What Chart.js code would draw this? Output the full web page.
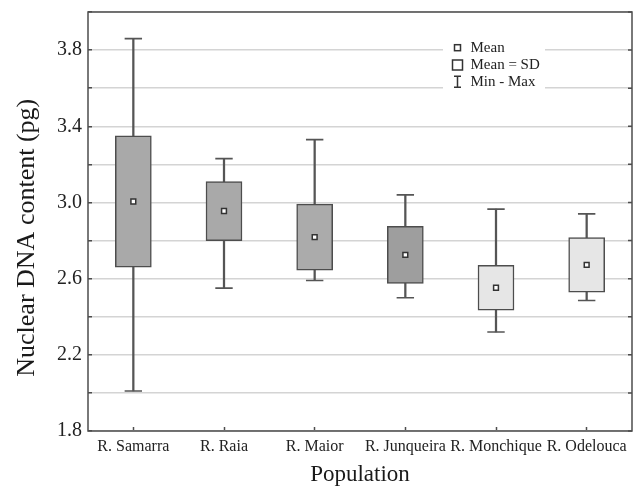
<!DOCTYPE html>
<html>
<head>
<meta charset="utf-8">
<script src="https://cdn.jsdelivr.net/npm/chart.js@4.4.1/dist/chart.umd.min.js"></script>
<style>
html, body { margin: 0; padding: 0; background: #ffffff; }
#wrap { width: 644px; height: 489px; }
</style>
</head>
<body>
<div id="wrap"><canvas id="c" width="644" height="489"></canvas></div>
<script>
// ---- data ----
const categories = ['R. Samarra', 'R. Raia', 'R. Maior', 'R. Junqueira', 'R. Monchique', 'R. Odelouca'];
const meanValues = [3.005, 2.955, 2.818, 2.725, 2.552, 2.672];
const sdValues   = [0.345, 0.155, 0.173, 0.150, 0.118, 0.143];
const minValues  = [2.01, 2.55, 2.59, 2.50, 2.32, 2.485];
const maxValues  = [3.86, 3.23, 3.33, 3.04, 2.965, 2.94];
const boxColors  = ['#a9a9a9', '#a9a9a9', '#ababab', '#9e9e9e', '#e6e6e6', '#e6e6e6'];
const yTickLabels = ['1.8', '2.2', '2.6', '3.0', '3.4', '3.8'];
const legendLabels = ['Mean', 'Mean = SD', 'Min - Max'];
const xTitle = 'Population';
const yTitle = 'Nuclear DNA content (pg)';

const boxData = meanValues.map((m, i) => [m - sdValues[i], m + sdValues[i]]);
const whiskerData = minValues.map((v, i) => [v, maxValues[i]]);

const FONT = 'Liberation Serif';
Chart.defaults.font.family = FONT;
Chart.defaults.color = '#222222';

const INK = '#4d4d4d';

// frame around the plot + inner ticks on the right side
const framePlugin = {
  id: 'frame',
  afterDraw(chart) {
    const a = chart.chartArea;
    const ctx = chart.ctx;
    const ys = chart.scales.y;
    ctx.save();
    ctx.strokeStyle = INK;
    ctx.lineWidth = 1.5;
    ctx.strokeRect(a.left, a.top, a.right - a.left, a.bottom - a.top);
    ctx.beginPath();
    ys.ticks.forEach(t => {
      const py = ys.getPixelForValue(t.value);
      ctx.moveTo(a.right, py);
      ctx.lineTo(a.right - 4, py);
    });
    ctx.stroke();
    ctx.restore();
  }
};

// legend drawn inside the plot area (top right)
const legendPlugin = {
  id: 'insideLegend',
  afterDraw(chart) {
    const a = chart.chartArea;
    const ctx = chart.ctx;
    const x0 = a.left + 355;
    const y0 = a.top + 26;
    ctx.save();
    ctx.fillStyle = '#ffffff';
    ctx.fillRect(x0, y0, 102, 55);
    const iconX = x0 + 14.5;
    const textX = x0 + 27.5;
    const rows = [y0 + 9.7, y0 + 27, y0 + 43.7];
    ctx.strokeStyle = '#333333';
    ctx.lineWidth = 1.5;
    // Mean icon
    ctx.fillStyle = '#ffffff';
    ctx.fillRect(iconX - 3, rows[0] - 3, 6, 6);
    ctx.strokeRect(iconX - 3, rows[0] - 3, 6, 6);
    // Mean = SD icon
    ctx.fillRect(iconX - 5, rows[1] - 5, 10, 10);
    ctx.strokeRect(iconX - 5, rows[1] - 5, 10, 10);
    // Min - Max icon
    ctx.beginPath();
    ctx.moveTo(iconX, rows[2] - 5.5); ctx.lineTo(iconX, rows[2] + 5.5);
    ctx.moveTo(iconX - 3.5, rows[2] - 5.5); ctx.lineTo(iconX + 3.5, rows[2] - 5.5);
    ctx.moveTo(iconX - 3.5, rows[2] + 5.5); ctx.lineTo(iconX + 3.5, rows[2] + 5.5);
    ctx.stroke();
    ctx.fillStyle = '#222222';
    ctx.font = '15px "' + FONT + '"';
    ctx.textBaseline = 'middle';
    ctx.textAlign = 'left';
    legendLabels.forEach((t, i) => ctx.fillText(t, textX, rows[i]));
    ctx.restore();
  }
};

new Chart(document.getElementById('c'), {
  type: 'bar',
  data: {
    labels: categories,
    datasets: [
      {
        type: 'bar', label: 'Min - Max', data: whiskerData,
        backgroundColor: '#555555', borderWidth: 0,
        barThickness: 1.6, grouped: false, order: 4
      },
      {
        type: 'line', label: 'Max', data: maxValues, showLine: false,
        pointStyle: 'line', pointRadius: 8.7, pointHoverRadius: 8.7,
        pointBorderColor: '#555555', pointBackgroundColor: '#555555',
        pointBorderWidth: 1.6, borderColor: '#555555', order: 3
      },
      {
        type: 'line', label: 'Min', data: minValues, showLine: false,
        pointStyle: 'line', pointRadius: 8.7, pointHoverRadius: 8.7,
        pointBorderColor: '#555555', pointBackgroundColor: '#555555',
        pointBorderWidth: 1.6, borderColor: '#555555', order: 3
      },
      {
        type: 'bar', label: 'Mean = SD', data: boxData,
        backgroundColor: boxColors, borderColor: INK, borderWidth: 1.5,
        borderSkipped: false, barThickness: 36, grouped: false, order: 2
      },
      {
        type: 'line', label: 'Mean', data: meanValues, showLine: false,
        pointStyle: 'rect', pointRadius: 3.4, pointHoverRadius: 3.4,
        pointBackgroundColor: '#ffffff', pointBorderColor: '#333333',
        pointBorderWidth: 1.5, borderColor: '#333333', order: 1
      }
    ]
  },
  options: {
    responsive: false,
    animation: false,
    events: [],
    layout: { padding: { top: 12, right: 12, left: 0, bottom: 0 } },
    plugins: { legend: { display: false }, tooltip: { enabled: false } },
    scales: {
      x: {
        type: 'category',
        offset: true,
        grid: { offset: false, drawOnChartArea: false, drawTicks: true, tickLength: -4, tickColor: INK, tickWidth: 1.5 },
        border: { display: false },
        ticks: { padding: 10, font: { size: 16 }, color: '#222222', maxRotation: 0, autoSkip: false },
        title: { display: true, text: xTitle, font: { size: 23 }, color: '#1a1a1a', padding: { top: 0, bottom: 0 } },
        afterFit(scale) { scale.height = 58; scale.paddingLeft = 0; scale.paddingRight = 0; }
      },
      y: {
        type: 'linear',
        min: 1.8, max: 4.0,
        grid: { color: '#d4d4d4', lineWidth: 1.5, drawTicks: true, tickLength: -4, tickColor: INK, tickWidth: 1.5 },
        border: { display: false },
        ticks: {
          stepSize: 0.2, autoSkip: false, padding: 10, font: { size: 20 }, color: '#222222',
          callback(v) { const s = Number(v).toFixed(1); return yTickLabels.includes(s) ? s : ''; }
        },
        title: { display: true, text: yTitle + '\u00A0\u00A0\u00A0\u00A0\u00A0', font: { size: 26 }, color: '#1a1a1a', padding: { top: 12, bottom: 0 } },
        afterFit(scale) { scale.width = 88; scale.paddingTop = 0; scale.paddingBottom = 0; }
      }
    }
  },
  plugins: [framePlugin, legendPlugin]
});
</script>
</body>
</html>
